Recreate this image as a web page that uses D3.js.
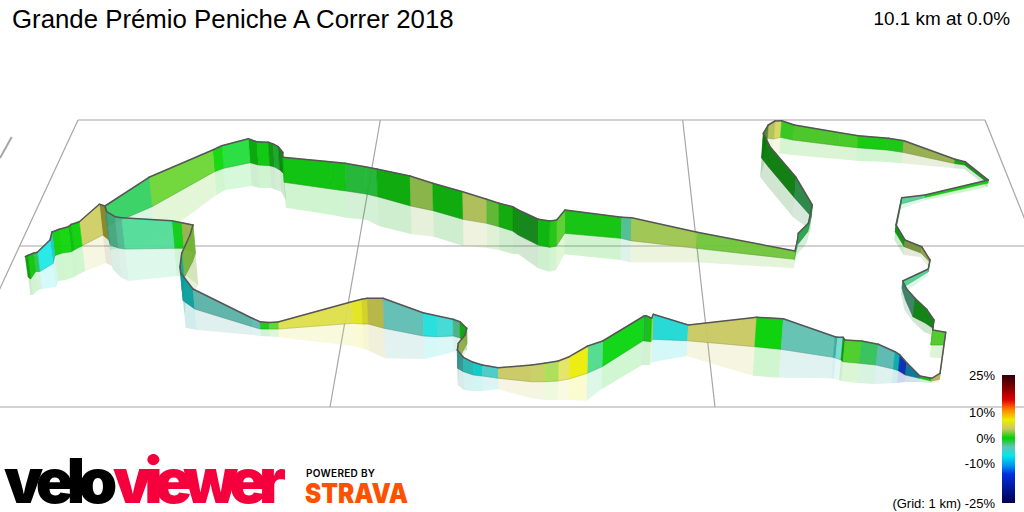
<!DOCTYPE html>
<html>
<head>
<meta charset="utf-8">
<style>
  body { margin: 0; background: #fff; }
  text { font-family: "Liberation Sans", Arial, sans-serif; fill: #000; }
</style>
</head>
<body>
<div id="chart"></div>
<script src="https://cdn.jsdelivr.net/npm/d3@7"></script>
<script>
var width = 1024, height = 512;

// Route, in view units (x, wall top, wall foot, end of reflection)
var routeVertices = [
  [253,2567,2770,2950],[275,2555,2790,2950],[333,2533,2715,2900],[373,2523,2715,2890],[500,2400,2635,2870],
  [520,2320,2555,2810],[593,2293,2530,2800],[683,2267,2517,2770],[710,2245,2500,2750],[793,2217,2457,2710],
  [993,2043,2350,2630],[1050,2060,2400,2660],[1067,2117,2450,2700],[1150,2167,2480,2780],[1217,2177,2490,2810],
  [1717,2207,2483,2760],[1817,2227,2483,2760],[1930,2250,2530,2850],[1900,2350,2620,2900],[1817,2533,2780,3000],
  [1800,2667,2900,3150],[1807,2730,3007,3277],[1930,2890,3090,3300],[2517,3180,3267,3350],[2600,3217,3290,3360],
  [2690,3225,3290,3365],[2780,3220,3290,3373],[3517,3017,3233,3460],[3617,2993,3240,3490],[3673,2983,3240,3510],
  [3830,2983,3283,3583],[4230,3127,3360,3590],[4367,3157,3367,3560],[4530,3193,3360,3517],[4600,3217,3380,3500],
  [4667,3283,3440,3500],[4650,3350,3467,3520],[4583,3433,3600,3700],[4573,3500,3683,3850],[4633,3573,3717,3900],
  [4733,3623,3750,3910],[4823,3650,3760,3910],[4983,3677,3783,3893],[5317,3650,3817,3983],[5443,3633,3817,4000],
  [5583,3610,3810,4000],[5693,3567,3790,4000],[5877,3460,3733,4007],[6027,3410,3667,3893],[6440,3160,3407,3650],
  [6460,3157,3410,3650],[6517,3183,3417,3650],[6533,3143,3393,3623],[6883,3250,3407,3560],[7567,3173,3467,3757],
  [7833,3187,3493,3777],[8350,3367,3573,3783],[8375,3373,3580,3790],[8430,3373,3600,3800],[8450,3400,3617,3810],
  [8617,3410,3633,3830],[8783,3443,3650,3840],[8950,3517,3690,3833],[9000,3550,3707,3830],[9067,3627,3750,3820],
  [9200,3760,3783,3820],[9317,3783,3810,3830],[9400,3733,3793,3820],[9457,3323,3450,3583],[9327,3300,3450,3573],
  [9340,3200,3283,3350],[9267,3093,3230,3320],[9150,2983,3167,3210],[9067,2890,3000,3100],[9027,2810,2880,2950],
  [9283,2690,2720,2760],[9300,2600,2620,2680],[9217,2467,2530,2570],[9050,2400,2467,2550],[8960,2250,2320,2400],
  [9017,1977,2040,2090],[9250,1950,1975,2005],[9883,1800,1830,1870],[9650,1617,1650,1690],[9550,1593,1635,1683],
  [9040,1407,1523,1633],[8883,1383,1500,1620],[8583,1357,1477,1607],[8400,1327,1457,1590],[7943,1250,1400,1550],
  [7817,1207,1373,1533],[7750,1210,1390,1540],[7683,1250,1380,1560],[7633,1333,1580,1770],[7700,1467,1670,1860],
  [7960,1773,1977,2170],[8123,2050,2167,2300],[8083,2233,2320,2430],[7983,2333,2450,2550],[7973,2410,2480,2580],
  [7950,2510,2593,2683],[6973,2323,2483,2623],[6317,2177,2407,2623],[6217,2173,2383,2600],[5650,2100,2333,2543],
  [5567,2200,2460,2700],[5500,2210,2473,2717],[5383,2193,2450,2683],[5183,2100,2350,2540],[5127,2067,2310,2540],
  [4990,2033,2267,2500],[4867,1993,2233,2480],[4627,1917,2193,2460],[4327,1833,2107,2367],[4100,1760,2060,2343],
  [3767,1690,1967,2260],[3650,1667,1940,2200],[3450,1633,1910,2180],[3300,1617,1890,2150],[2827,1573,1823,2077],
  [2827,1523,1740,2000],[2783,1467,1700,1917],[2730,1440,1670,1900],[2683,1423,1657,1880],[2567,1417,1650,1880],
  [2483,1387,1627,1860],[2217,1457,1683,1900],[2127,1500,1717,1950],[1490,1773,2067,2400],[1050,2060,2260,2500]
];

// Gradient (%) of each stretch of road
var segmentGrade = [
  0,.1,-1.5,-6,-6,.1,.2,-.2,.1,3.5,
  5,-3,-2.8,-3,-2.6,-.3,3,2.3,2.3,-6,
  -6.8,-6.8,-3.5,-3.5,.3,1.4,4.5,6,5.8,4.3,
  -3.5,-6,-5,-2.8,.1,3,3,-4.5,-4.5,-5.5,
  -6.8,-4.5,3.5,3.4,2.7,3.8,6.8,-2.4,-.2,-2.5,
  .1,2.9,-6,3.5,0,-3.4,-4.5,-3.5,.1,1.2,
  -1.7,-3.7,-7,-14,-9,0,3.5,3.5,1.3,-.2,
  -.2,-.2,-3,-3,-2.5,0,3,2.8,0,0,
  -2.6,.1,-.5,.1,3,.3,.2,1.1,1.2,.8,
  3.8,3.2,2,-.2,-.2,-1.8,-1.5,-1.5,-3,-.5,
  2,2.8,-2.8,.2,1.5,.5,0,-.5,0,.1,
  1.7,3.2,0,2.6,0,-1,-1,-.1,-.1,-.1,
  -.2,-.8,-.2,-.1,0,-1,.2,1.75,-1.75
];

// How much light each stretch of wall catches
var segmentLight = [
  .72,.95,.95,1.05,.9,1,1.02,.9,1,1.03,
  .6,.7,.83,.92,1.1,.98,.87,.88,.88,.7,
  .68,.68,.9,.95,.98,1.05,1.05,1,.92,.85,
  .96,1,1.03,.88,.78,.85,.85,.7,.7,.82,
  .87,.98,1,1.03,1.1,1.12,1,1.1,1.03,.72,
  .93,1,.97,1,1,.98,.8,1.12,.7,1,
  .95,.93,.73,.78,.6,.93,.9,.9,.98,.66,
  .6,.6,.62,.62,1.05,.8,.8,.7,.7,.8,
  1.05,1,.68,.78,.85,.95,.96,.98,.95,.95,
  1.05,.95,.65,.58,.58,.65,.75,.8,1.1,.95,
  .96,.97,.95,.93,1,.93,.85,.62,.66,.8,
  .88,.93,.8,.87,.8,.88,.88,.92,.92,.92,
  .6,.8,.7,.95,.78,1.08,1.03,1.05,1.03
];

// Colour ramp for gradient
var rampGrades = [25,20,15,11,7,3.5,0,-3.5,-7,-11,-14,-25];
var rampColours = ["#300008","#800000","#e00000","#ff8000","#eeee00","#c8c860","#00d000","#62c4b8","#00e8e8","#0090f0","#0030e0","#000050"];

// Legend
var legendGrades = [25,10,0,-10,-25];
var legendLabels = ["25%","10%","0%","-10%","(Grid: 1 km) -25%"];

// Grid (1 km squares)
var gridEast = [0,1,2,3];
var gridNorth = [0,1,2];

var svg = d3.select("#chart").append("svg")
  .attr("width", width)
  .attr("height", height)
  .style("display", "block");

var xView = d3.scaleLinear().domain([0,10240]).range([0,width]);
var yView = d3.scaleLinear().domain([0,5120]).range([0,height]);

var colour = d3.scaleLinear().domain(rampGrades).range(rampColours).clamp(true);
var legendY = d3.scaleLinear().domain(legendGrades).range([375,412,438,463.5,503]);

// grid lines, narrower towards the back
var farX = d3.scaleLinear().domain([0,3]).range([78,985]);
var nearX = d3.scaleLinear().domain([0,3]).range([-55,1100]);
var rowY = d3.scaleLinear().domain(gridNorth).range([120,246,407]);

var grid = svg.append("g").attr("stroke", "#a6a6a6").attr("stroke-width", 1.2);
grid.selectAll("line.east")
  .data(gridEast)
  .enter().append("line")
  .attr("x1", function(d) { return farX(d); })
  .attr("y1", rowY(0))
  .attr("x2", function(d) { return nearX(d); })
  .attr("y2", rowY(2));
grid.selectAll("line.north")
  .data(gridNorth)
  .enter().append("line")
  .attr("x1", function(d) { return d == 0 ? farX(0) : d == 1 ? 20 : 0; })
  .attr("y1", function(d) { return rowY(d); })
  .attr("x2", function(d) { return d == 0 ? farX(3) : width; })
  .attr("y2", function(d) { return rowY(d); });
// stray stub at the far left
grid.append("line")
  .attr("x1", 0).attr("y1", 158).attr("x2", 11.7).attr("y2", 137)
  .attr("stroke-width", 2);

// verticals lean slightly towards the middle of the picture
function lean(x, drop) {
  return x + (width / 2 - x) * 0.000276 * drop;
}

function shaded(d) {
  var c = d3.rgb(colour(d.grade));
  return d3.rgb(Math.min(255, c.r * d.light), Math.min(255, c.g * d.light), Math.min(255, c.b * d.light)).formatHex();
}

var segments = d3.pairs(routeVertices).map(function(p, i) {
  var a = p[0], b = p[1];
  var ax = xView(a[0]), bx = xView(b[0]);
  var at = yView(a[1]), bt = yView(b[1]);
  var ab = yView(a[2]), bb = yView(b[2]);
  var as = yView(a[3]), bs = yView(b[3]);
  var footA = [lean(ax,ab-at),ab], footB = [lean(bx,bb-bt),bb];
  return {
    grade: segmentGrade[i],
    light: segmentLight[i],
    depth: (ab + bb) / 2,
    wall: [[ax,at],[bx,bt],footB,footA],
    shadow: [footA,footB,[lean(bx,bs-bt),bs],[lean(ax,as-at),as]],
    foot: [footA,footB],
    top: [[ax,at],[bx,bt]]
  };
});

var polygon = d3.line();

// reflections first, then the walls from the back to the front
svg.append("g").selectAll("path")
  .data(segments)
  .enter().append("path")
  .attr("d", function(d) { return polygon(d.shadow) + "Z"; })
  .attr("fill", shaded)
  .attr("fill-opacity", 0.19);

var walls = svg.append("g").selectAll("g")
  .data(segments.slice().sort(function(a, b) { return d3.ascending(a.depth, b.depth); }))
  .enter().append("g");

walls.append("path")
  .attr("d", function(d) { return polygon(d.wall) + "Z"; })
  .attr("fill", shaded)
  .attr("fill-opacity", 0.94)
  .attr("stroke", shaded)
  .attr("stroke-opacity", 0.94)
  .attr("stroke-width", 0.5);

walls.append("path")
  .attr("d", function(d) { return polygon(d.foot); })
  .attr("fill", "none")
  .attr("stroke", "#333")
  .attr("stroke-opacity", 0.2)
  .attr("stroke-width", 0.8);

walls.append("path")
  .attr("d", function(d) { return polygon(d.top); })
  .attr("fill", "none")
  .attr("stroke", "#555")
  .attr("stroke-width", 1.5)
  .attr("stroke-linecap", "round");

// title
svg.append("text").attr("x", 12).attr("y", 28).style("font-size", "25.8px")
  .text("Grande Prémio Peniche A Correr 2018");
svg.append("text").attr("x", 1010).attr("y", 25).attr("text-anchor", "end").style("font-size", "18.9px")
  .text("10.1 km at 0.0%");

// legend bar
var defs = svg.append("defs");
var ramp = defs.append("linearGradient").attr("id", "ramp")
  .attr("x1", 0).attr("y1", 0).attr("x2", 0).attr("y2", 1);
ramp.selectAll("stop")
  .data(rampGrades)
  .enter().append("stop")
  .attr("offset", function(d) { return (legendY(d) - legendY(25)) / (legendY(-25) - legendY(25)); })
  .attr("stop-color", function(d) { return colour(d); });

svg.append("rect")
  .attr("x", 1002).attr("y", legendY(25))
  .attr("width", 13).attr("height", legendY(-25) - legendY(25))
  .attr("fill", "url(#ramp)");

svg.append("g").selectAll("text")
  .data(legendGrades)
  .enter().append("text")
  .attr("x", 995)
  .attr("y", function(d) { return legendY(d); })
  .attr("dy", "0.35em")
  .attr("text-anchor", "end")
  .style("font-size", "13px")
  .text(function(d, i) { return legendLabels[i]; });

// logos
svg.append("text").attr("x", 4).attr("y", 503)
  .style("font-size", "62px").style("font-family", "Inter, sans-serif").style("font-weight", 900)
  .style("letter-spacing", "-6.5px")
  .text("velo");
svg.append("text").attr("x", 113).attr("y", 503)
  .style("font-size", "62px").style("font-family", "Inter, sans-serif").style("font-weight", 900)
  .style("letter-spacing", "-8px")
  .style("fill", "#f5003d")
  .text("viewer");
svg.append("text").attr("x", 306).attr("y", 477)
  .attr("textLength", 69)
  .style("font-size", "10px").style("font-family", "Inter, sans-serif").style("font-weight", 600)
  .text("POWERED BY");
svg.append("text").attr("x", 305).attr("y", 503)
  .attr("textLength", 103).attr("lengthAdjust", "spacingAndGlyphs")
  .style("font-size", "27px").style("font-family", "Inter, sans-serif").style("font-weight", 900)
  .style("fill", "#fc5200")
  .text("STRAVA");
</script>
</body>
</html>
